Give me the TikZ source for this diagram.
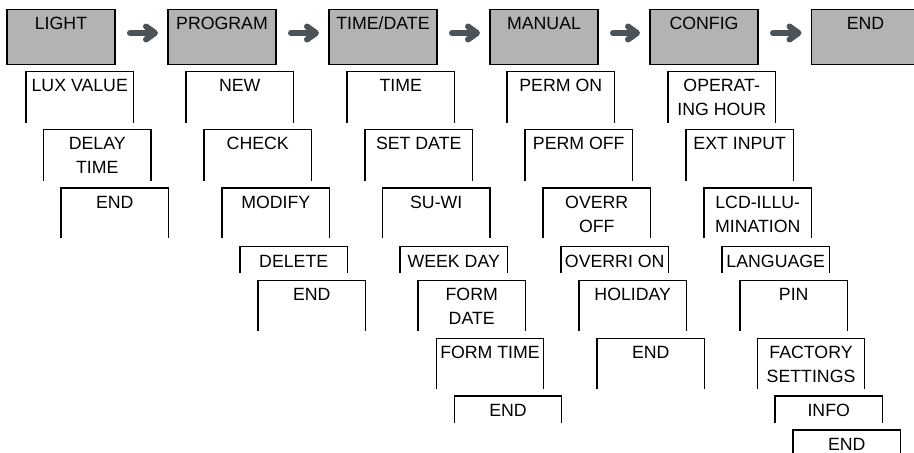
\documentclass[tikz,border=0pt]{standalone}
\usepackage{fontspec}
\setmainfont{Liberation Sans}
\usetikzlibrary{arrows.meta}
\definecolor{boxgray}{RGB}{179,179,179}
\definecolor{arrowgray}{RGB}{75,83,89}
\newcommand\maincell[1]{\parbox[t][41.25pt][t]{81pt}{\centering\rule{0pt}{15.3pt}#1}}
\newcommand\subcell[2]{\parbox[t][#1][t]{80.6pt}{\centering\rule{0pt}{15.5pt}#2}}
\def\hrowa{38.6pt}
\def\hrowb{38.6pt}
\def\hrowc{37.7pt}
\def\hrowd{19.7pt}
\def\hrowe{37.9pt}
\def\hrowf{38.25pt}
\def\hrowg{20.5pt}
\def\hrowh{20.25pt}
\begin{document}
\begin{tikzpicture}[x=0.75pt,y=-0.75pt,
  every node/.style={font=\fontsize{13.3pt}{17.6pt}\selectfont, inner sep=0pt, outer sep=0pt, anchor=north west},
  mainbox/.style={draw=black, line width=1pt, fill=boxgray},
  frameline/.style={draw=black, line width=0.8pt},
  flow/.style={draw=arrowgray, line width=4.5pt, line cap=round, -{Straight Barb[round,length=6.75pt,width=9.75pt]}}]
\useasboundingbox (0,0) rectangle (914,453);
\clip (0,0) rectangle (914,453);
% main row
\node[mainbox] (light)   at (7,9.3)     {\maincell{LIGHT}};
\node[mainbox] (program) at (168,9.3)   {\maincell{PROGRAM}};
\node[mainbox] (timedate) at (329,9.3)  {\maincell{TIME/DATE}};
\node[mainbox] (manual)  at (490,9.3)   {\maincell{MANUAL}};
\node[mainbox] (config)  at (650,9.3)   {\maincell{CONFIG}};
\node[mainbox] (mend)    at (811.5,9.3) {\maincell{END}};
% arrows
\foreach \a/\b in {light/program, program/timedate, timedate/manual, manual/config, config/mend}
  \draw[flow] ([shift={(15,-3.8)}]\a.east) -- ([shift={(-10,-3.8)}]\b.west);
% LIGHT column
\node (l1) at (26,71.3)   {\subcell{\hrowa}{LUX VALUE}};
\node (l2) at (43.5,129.3) {\subcell{\hrowb}{DELAY\\TIME}};
\node (l3) at (61,188)    {\subcell{\hrowc}{END}};
% PROGRAM column
\node (p1) at (186,71.3)  {\subcell{\hrowa}{NEW}};
\node (p2) at (204,129.3) {\subcell{\hrowb}{CHECK}};
\node (p3) at (222,188)   {\subcell{\hrowc}{MODIFY}};
\node (p4) at (240,246.5) {\subcell{\hrowd}{DELETE}};
\node (p5) at (258,280.2) {\subcell{\hrowe}{END}};
% TIME/DATE column
\node (t1) at (347,71.3)   {\subcell{\hrowa}{TIME}};
\node (t2) at (365,129.3)  {\subcell{\hrowb}{SET DATE}};
\node (t3) at (382.5,188)  {\subcell{\hrowc}{SU-WI}};
\node (t4) at (400,246.5)  {\subcell{\hrowd}{WEEK DAY}};
\node (t5) at (418,280.2)  {\subcell{\hrowe}{FORM\\DATE}};
\node (t6) at (436.3,338.3) {\subcell{\hrowf}{FORM TIME}};
\node (t7) at (454.3,396)  {\subcell{\hrowg}{END}};
% MANUAL column
\node (m1) at (507,71.3)  {\subcell{\hrowa}{PERM ON}};
\node (m2) at (525,129.3) {\subcell{\hrowb}{PERM OFF}};
\node (m3) at (543,188)   {\subcell{\hrowc}{OVERR\\OFF}};
\node (m4) at (561,246.5) {\subcell{\hrowd}{OVERRI ON}};
\node (m5) at (579,280.2) {\subcell{\hrowe}{HOLIDAY}};
\node (m6) at (597,338.3) {\subcell{\hrowf}{END}};
% CONFIG column
\node (c1) at (668,71.3)   {\subcell{\hrowa}{OPERAT-\\ING HOUR}};
\node (c2) at (686,129.3)  {\subcell{\hrowb}{EXT INPUT}};
\node (c3) at (704,188)    {\subcell{\hrowc}{LCD-ILLU-\\MINATION}};
\node (c4) at (722,246.5)  {\subcell{\hrowd}{LANGUAGE}};
\node (c5) at (740,280.2)  {\subcell{\hrowe}{PIN}};
\node (c6) at (757.3,338.3) {\subcell{\hrowf}{FACTORY\\SETTINGS}};
\node (c7) at (775,396)    {\subcell{\hrowg}{INFO}};
\node (c8) at (793,430)    {\subcell{\hrowh}{END}};
% open frames
\foreach \n in {l1,l2,l3,p1,p2,p3,p4,p5,t1,t2,t3,t4,t5,t6,t7,m1,m2,m3,m4,m5,m6,c1,c2,c3,c4,c5,c6,c7,c8}
  \draw[frameline] (\n.south west) -- (\n.north west) -- (\n.north east) -- (\n.south east);
\end{tikzpicture}
\end{document}
